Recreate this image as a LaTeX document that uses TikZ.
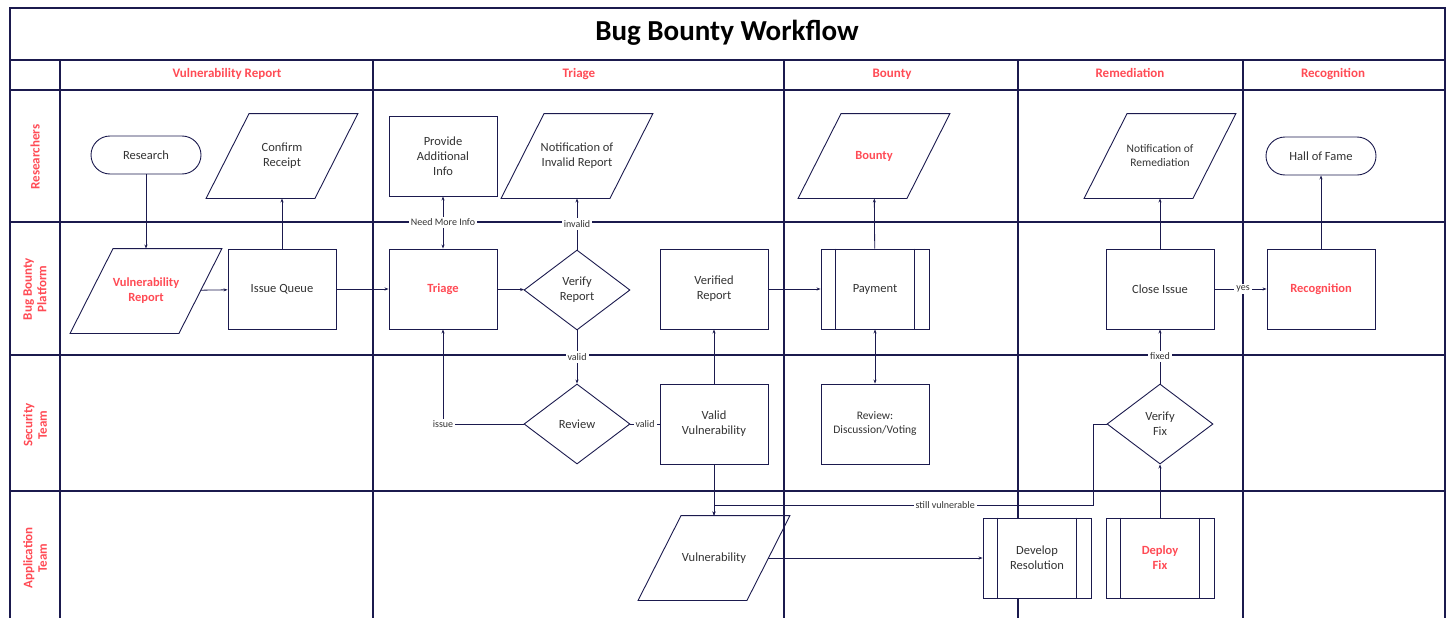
\documentclass[tikz,border=0pt]{standalone}
\usepackage{fontspec}
\setmainfont{Carlito}
\usepackage{tikz}
\usetikzlibrary{shapes.geometric, arrows.meta, positioning, backgrounds}
\definecolor{navy}{HTML}{1B1A4E}
\definecolor{hot}{HTML}{FF4B55}
\definecolor{ink}{HTML}{333333}
\tikzset{
  lane/.style={draw=navy, line width=1.2pt},
  box/.style={draw=navy, fill=white, line width=0.9pt, minimum width=108pt, minimum height=80pt,
    align=center, text=ink, font=\fontsize{12.5}{15}\selectfont},
  hot/.style={text=hot, font=\fontsize{12.5}{15}\selectfont\bfseries},
  io/.style={box, draw=none, fill=none, minimum height=84pt},
  slant/.style={draw=navy, line width=0.9pt},
  decision/.style={box, diamond, aspect=1.33, minimum width=106pt, minimum height=80pt, inner sep=0pt},
  term/.style={box, rounded corners=19pt, minimum width=110pt, minimum height=38pt},
  flow/.style={draw=navy, line width=0.8pt, -{Stealth[length=4pt, width=3pt]}},
  tag/.style={fill=white, text=ink, font=\fontsize{10}{12}\selectfont, inner sep=2pt},
  head/.style={text=hot, font=\fontsize{13}{15}\selectfont\bfseries, text height=1.6ex, text depth=0.4ex},
  who/.style={text=hot, font=\fontsize{13}{14.5}\selectfont\bfseries, rotate=90, align=center}
}
\begin{document}
\begin{tikzpicture}[x=1pt, y=-1pt]
  \useasboundingbox (0,0) rectangle (1453,618);

  \node[font=\fontsize{29}{33}\selectfont\bfseries] (title) at (727,33) {Bug Bounty Workflow};
  \node[head] (hvr) at (227,75) {Vulnerability Report};
  \node[head] (htr) at (579,75) {Triage};
  \node[head] (hbo) at (892,75) {Bounty};
  \node[head] (hre) at (1130,75) {Remediation};
  \node[head] (hrc) at (1333,75) {Recognition};
  \node[who] (wres) at (35,157) {Researchers};
  \node[who] (wbbp) at (35,289) {Bug Bounty\\Platform};
  \node[who] (wsec) at (35,425) {Security\\Team};
  \node[who] (wapp) at (35,558) {Application\\Team};

  \node[term] (research) at (146,155) {Research};
  \node[io] (confirm) at (282,156) {Confirm\\Receipt};
  \node[io, hot] (vrep) at (146,291) {Vulnerability\\Report};
  \node[box] (queue) at (282,289) {Issue Queue};
  \node[box] (provide) at (443,156) {Provide\\Additional\\Info};
  \node[io] (invalid) at (577,156) {Notification of\\Invalid Report};
  \node[box, hot] (triage) at (443,289) {Triage};
  \node[decision] (verify) at (577,290) {Verify\\Report};
  \node[box] (verified) at (714,289) {Verified\\Report};
  \node[box] (payment) at (875,289) {Payment};
  \node[io, hot] (bounty) at (874,156) {Bounty};
  \node[io, font=\fontsize{11.5}{14}\selectfont] (notify) at (1160,156) {Notification of\\Remediation};
  \node[term] (hall) at (1321,156) {Hall of Fame};
  \node[box] (close) at (1160,289) {Close Issue};
  \node[box, hot] (recog) at (1321,289) {Recognition};
  \node[decision] (review) at (577,424) {Review};
  \node[box] (validv) at (714,424) {Valid\\Vulnerability};
  \node[box, font=\fontsize{11.5}{14}\selectfont] (discuss) at (875,424) {Review:\\Discussion/Voting};
  \node[decision] (fix) at (1160,424) {Verify\\Fix};
  \node[io] (vuln) at (714,558) {Vulnerability};
  \node[box] (develop) at (1037,558) {Develop\\Resolution};
  \node[box, hot] (deploy) at (1160,558) {Deploy\\Fix};
  \foreach \n in {payment, develop, deploy}
    \draw[navy, line width=0.9pt] ([xshift=15]\n.north west) -- ([xshift=15]\n.south west)
      ([xshift=-15]\n.north east) -- ([xshift=-15]\n.south east);
  \foreach \n in {confirm, vrep, invalid, bounty, notify, vuln}
    \draw[slant] ([xshift=21.5]\n.north west) -- ([xshift=21.5]\n.north east)
      -- ([xshift=-21.5]\n.south east) -- ([xshift=-21.5]\n.south west) -- cycle;

  \begin{pgfonlayer}{background}
    \draw[lane] (10,8) rectangle (1445,640);
    \draw[lane] (10,60) -- (1445,60);
    \draw[lane] (10,90) -- (1445,90);
    \draw[lane] (10,222) -- (1445,222);
    \draw[lane] (10,355) -- (1445,355);
    \draw[lane] (10,491) -- (1445,491);
    \draw[lane] (60,60) -- (60,640);
    \draw[lane] (373,60) -- (373,640);
    \draw[lane] (784,60) -- (784,640);
    \draw[lane] (1018,60) -- (1018,640);
    \draw[lane] (1243,60) -- (1243,640);
  \end{pgfonlayer}

  \draw[flow] (research) -- (vrep);
  \draw[flow] (vrep) -- (queue);
  \draw[flow] (queue) -- (confirm);
  \draw[flow] (queue) -- (triage);
  \draw[flow, {Stealth[length=4pt, width=3pt]}-{Stealth[length=4pt, width=3pt]}] (triage) -- node[tag] {Need More Info} (provide);
  \draw[flow] (triage) -- (verify);
  \draw[flow] (verify) -- node[tag] {invalid} (invalid);
  \draw[flow] (verify) -- node[tag] {valid} (review);
  \draw[flow] (review.west) -| node[tag] {issue} (triage.south);
  \draw[draw=navy, line width=0.8pt] (review.east) -- node[tag] {valid} (validv.west);
  \draw[flow] (validv) -- (verified);
  \draw[flow] (validv) -- (vuln);
  \draw[flow] (verified) -- (payment);
  \draw[flow] (payment) -- (bounty);
  \draw[flow, {Stealth[length=4pt, width=3pt]}-{Stealth[length=4pt, width=3pt]}] (payment) -- (discuss);
  \draw[flow] (vuln.east) -- (develop.west);
  \draw[flow] (deploy) -- (fix);
  \draw[flow] (fix) -- node[tag] {fixed} (close);
  \draw[flow] (close) -- node[tag, pos=0.55] {yes} (recog);
  \draw[flow] (recog) -- (hall);
  \draw[flow] (close) -- (notify);
  \coordinate (svturn) at (1093,505);
  \coordinate (svjoin) at (714,505);
  \draw[flow] (fix.west) -| (svturn) -- node[tag, pos=0.39] {still vulnerable} (svjoin) -- (vuln.north);
\end{tikzpicture}
\end{document}
